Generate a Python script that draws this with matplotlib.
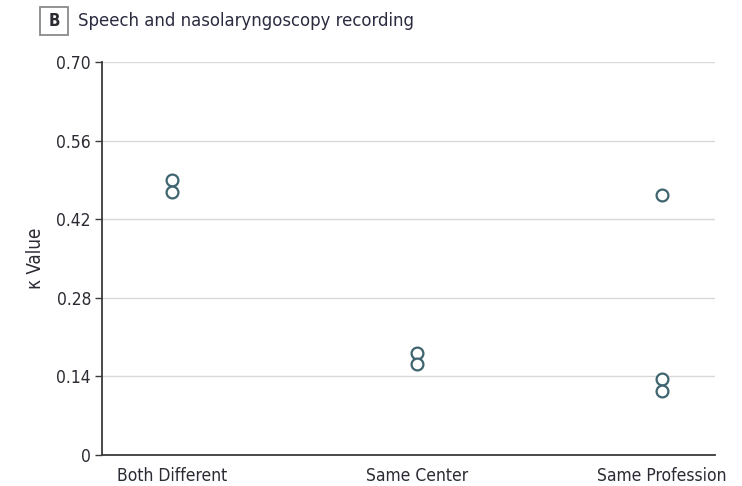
import matplotlib
matplotlib.use("Agg")
import matplotlib.pyplot as plt
from matplotlib.patches import Rectangle

plt.rcParams['font.family'] = ['DejaVu Sans']
plt.rcParams['font.stretch'] = 'condensed'

# Kappa values per rater pairing
categories = ["Both Different", "Same Center", "Same Profession"]
kappa_values = [
    [0.490, 0.468],
    [0.182, 0.162],
    [0.463, 0.135, 0.114],
]
y_ticks = [0, 0.14, 0.28, 0.42, 0.56, 0.70]
y_tick_labels = ["0", "0.14", "0.28", "0.42", "0.56", "0.70"]

fig = plt.figure(figsize=(7.42, 4.86), dpi=100)
ax = fig.add_axes([0.1375, 0.0638, 0.8261, 0.8086])

marker_color = "#3e6470"
for i, vals in enumerate(kappa_values):
    ax.plot([i] * len(vals), vals, linestyle="none", marker="o", markersize=8.5,
            markerfacecolor="white", markeredgecolor=marker_color,
            markeredgewidth=1.6, zorder=3)

ax.set_xlim(-0.286, 2.216)
ax.set_ylim(0, 0.70)
ax.set_yticks(y_ticks)
ax.set_yticklabels(y_tick_labels)
ax.set_xticks(range(len(categories)))
ax.set_xticklabels(categories)

ax.grid(axis="y", color="#d9d9d9", linewidth=1.0, zorder=0)
ax.set_axisbelow(True)
for side in ("top", "right"):
    ax.spines[side].set_visible(False)
for side in ("left", "bottom"):
    ax.spines[side].set_color("#3a3a3a")
    ax.spines[side].set_linewidth(1.3)

ax.tick_params(axis="y", length=5, width=1.0, color="#3a3a3a",
               labelsize=12.5, labelcolor="#2b2b33", pad=3)
ax.tick_params(axis="x", length=0, labelsize=12.5, labelcolor="#2b2b33", pad=9)
ax.set_ylabel("κ Value", fontsize=13.5, color="#2b2b33", labelpad=8)

# Panel letter box and heading
box = Rectangle((0.0539, 0.928), 0.0377, 0.0576, transform=fig.transFigure,
                facecolor="white", edgecolor="#8a8a8a", linewidth=1.3)
fig.patches.append(box)
fig.text(0.0728, 0.957, "B", ha="center", va="center", fontsize=12,
         fontweight="bold", color="#2b2b33")
fig.text(0.105, 0.956, "Speech and nasolaryngoscopy recording", ha="left",
         va="center", fontsize=13.2, color="#2b2b40")

fig.savefig("out.png", dpi=100)
